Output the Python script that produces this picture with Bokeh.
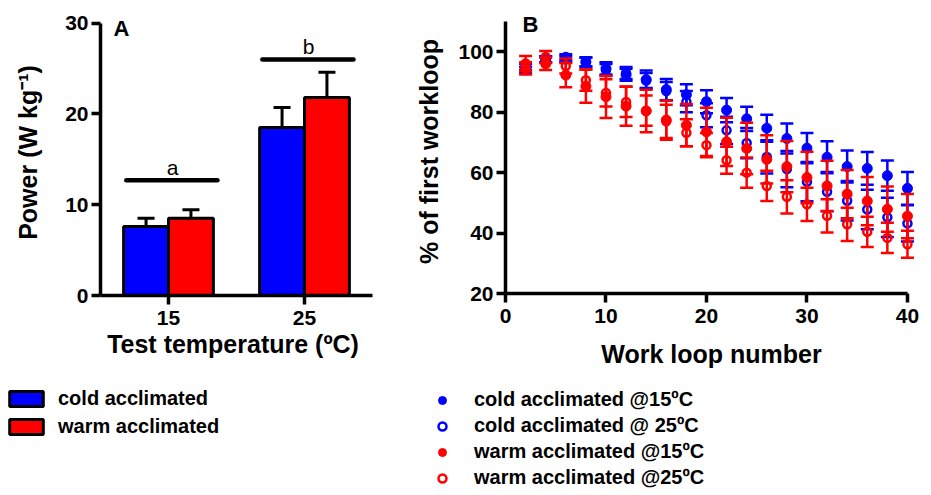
from bokeh.plotting import figure
from bokeh.models import (ColumnDataSource, FactorRange, Range1d, FixedTicker,
                          Legend, LegendItem, Label)
from bokeh.transform import dodge
from bokeh.layouts import row, column
from bokeh.embed import file_html
from bokeh.resources import INLINE
from bokeh.core.properties import value

FONT = "Liberation Sans"
BLUE = "#0000FF"
RED = "#FF0000"

# ---------------- Panel A data ----------------
temps = ["15", "25"]
cold_power = [7.6, 18.5]
cold_sem = [0.9, 2.2]
warm_power = [8.5, 21.8]
warm_sem = [0.95, 2.8]
sig_letters = ["a", "b"]
sig_y = [12.7, 26.0]
bar_labels = ["cold acclimated", "warm acclimated"]

# ---------------- Panel B data ----------------
loops = [2, 4, 6, 8, 10, 12, 14, 16, 18, 20, 22, 24, 26, 28, 30, 32, 34, 36, 38, 40]
cold15 = [94.0, 97.5, 98.2, 96.7, 94.5, 92.4, 90.8, 87.5, 85.8, 83.5, 80.7, 77.8,
          74.7, 71.3, 68.1, 65.1, 62.0, 61.4, 59.0, 54.8]
cold15_sem = [1.0, 1.0, 1.0, 1.5, 2.0, 2.0, 3.0, 3.5, 3.5, 3.8, 4.0, 4.0,
              4.5, 5.0, 5.0, 5.3, 5.3, 5.4, 5.0, 5.4]
cold25 = [95.0, 97.5, 97.5, 96.5, 94.0, 93.0, 90.5, 87.0, 83.5, 79.0, 74.0, 69.8,
          65.2, 61.2, 57.0, 53.7, 50.7, 47.8, 45.2, 43.2]
cold25_sem = [1.0, 1.0, 1.0, 1.5, 2.0, 2.0, 2.5, 3.0, 3.5, 4.0, 4.5, 5.0,
              5.5, 6.0, 6.5, 6.5, 6.5, 6.5, 6.5, 6.0]
warm15 = [94.5, 96.0, 92.3, 88.6, 85.1, 82.0, 80.4, 77.4, 75.7, 73.5, 70.2, 68.0,
          64.4, 62.0, 58.4, 55.6, 52.9, 50.6, 47.9, 45.6]
warm15_sem = [2.0, 2.0, 4.0, 5.5, 7.0, 6.5, 7.0, 6.5, 7.0, 8.0, 8.0, 8.5,
              8.0, 8.5, 8.5, 8.3, 8.0, 8.0, 7.5, 7.3]
warm25 = [96.1, 98.3, 95.3, 90.6, 86.4, 83.4, 80.5, 77.0, 73.2, 69.1, 64.1, 60.0,
          55.6, 52.0, 49.5, 45.7, 42.9, 40.4, 38.4, 36.3]
warm25_sem = [2.5, 2.0, 2.5, 3.5, 4.5, 5.0, 5.0, 5.5, 4.5, 4.0, 4.5, 5.0,
              5.0, 5.5, 5.5, 5.5, 5.5, 5.0, 5.0, 4.5]
series_labels = ["cold acclimated @15\u00baC", "cold acclimated @ 25\u00baC",
                 "warm acclimated @15\u00baC", "warm acclimated @25\u00baC"]


def style_axis(ax, label_size="25px"):
    ax.axis_line_color = "black"
    ax.axis_line_width = 3.5
    ax.major_tick_line_color = "black"
    ax.major_tick_line_width = 3.5
    ax.major_tick_out = 9
    ax.major_tick_in = 0
    ax.minor_tick_line_color = None
    ax.major_label_text_font = FONT
    ax.major_label_text_font_style = "bold"
    ax.major_label_text_font_size = "21px"
    ax.major_label_text_color = "black"
    ax.axis_label_text_font = FONT
    ax.axis_label_text_font_style = "bold"
    ax.axis_label_text_font_size = label_size
    ax.axis_label_text_color = "black"


def clean(p):
    p.outline_line_color = None
    for g in p.grid:
        g.grid_line_color = None


def legend_fig(width):
    f = figure(width=width, height=121, x_range=Range1d(0, 1), y_range=Range1d(0, 1),
               min_border=0, x_axis_location=None, y_axis_location=None,
               output_backend="svg", toolbar_location=None, title=None)
    clean(f)
    return f


# ================= Panel A =================
pA = figure(x_range=FactorRange(factors=temps, range_padding=0),
            y_range=Range1d(0, 31.5),
            frame_width=272, frame_height=286,
            min_border_left=100, min_border_right=28,
            min_border_top=7, min_border_bottom=80,
            output_backend="svg", toolbar_location=None, title=None)
clean(pA)

BW = 0.33
srcA = ColumnDataSource(dict(
    cat=temps, cold=cold_power, warm=warm_power,
    cold_top=[v + s for v, s in zip(cold_power, cold_sem)],
    warm_top=[v + s for v, s in zip(warm_power, warm_sem)],
    sig_y=sig_y, sig=sig_letters, let_y=[y + 1.45 for y in sig_y]))

xc = dodge("cat", -BW / 2, range=pA.x_range)
xw = dodge("cat", BW / 2, range=pA.x_range)

for xx, base, top in ((xc, "cold", "cold_top"), (xw, "warm", "warm_top")):
    pA.segment(x0=xx, y0=base, x1=xx, y1=top, line_color="black",
               line_width=3, source=srcA)
    pA.scatter(x=xx, y=top, marker="dash", size=17, line_color="black",
               line_width=3, source=srcA)

pA.vbar(x=xc, top="cold", width=BW, fill_color=BLUE, line_color="black",
        line_width=3, source=srcA)
pA.vbar(x=xw, top="warm", width=BW, fill_color=RED, line_color="black",
        line_width=3, source=srcA)

pA.segment(x0=dodge("cat", -0.31, range=pA.x_range), y0="sig_y",
           x1=dodge("cat", 0.36, range=pA.x_range), y1="sig_y",
           line_color="black", line_width=4.5, line_cap="round", source=srcA)
pA.text(x=dodge("cat", 0.03, range=pA.x_range), y="let_y", text="sig",
        text_font=value(FONT), text_font_size="21px", text_align="center",
        text_baseline="middle", text_color="black", source=srcA)

style_axis(pA.xaxis[0])
style_axis(pA.yaxis[0])
pA.yaxis.bounds = (0, 30)
pA.yaxis.ticker = FixedTicker(ticks=[0, 10, 20, 30])
pA.yaxis.axis_label = "Power (W kg\u207b\u00b9)"
pA.xaxis.axis_label = "Test  temperature (\u00baC)"
pA.yaxis.major_label_standoff = 3
pA.yaxis.axis_label_standoff = 20
pA.xaxis.major_label_standoff = 6
pA.xaxis.axis_label_standoff = 2

pA.add_layout(Label(x=13, y=267, x_units="screen", y_units="screen", text="A",
                    text_font=FONT, text_font_style="bold", text_font_size="22px",
                    text_baseline="middle", text_color="black"))

# legend A (separate strip below panel A); swatch proxies are zero-size
lA = legend_fig(400)
leg_r_A = [lA.vbar(x=[0.5], top=[0], bottom=[0], width=0, fill_color=c,
                   line_color="black", line_width=3) for c in (BLUE, RED)]
legA = Legend(items=[LegendItem(label=lab, renderers=[r])
                     for lab, r in zip(bar_labels, leg_r_A)],
              location=(5, 56), padding=0, margin=0, spacing=5,
              glyph_width=42, glyph_height=19, label_height=22, label_standoff=11,
              label_text_font=FONT, label_text_font_style="bold",
              label_text_font_size="20px", label_text_color="black",
              border_line_color=None, background_fill_alpha=0)
lA.add_layout(legA)

# ================= Panel B =================
pB = figure(x_range=Range1d(0, 41), y_range=Range1d(20, 114),
            frame_width=412, frame_height=284,
            min_border_left=105, min_border_right=13,
            min_border_top=9, min_border_bottom=80,
            output_backend="svg", toolbar_location=None, title=None)
clean(pB)

series = [(cold15, cold15_sem, BLUE, True), (cold25, cold25_sem, BLUE, False),
          (warm15, warm15_sem, RED, True), (warm25, warm25_sem, RED, False)]
for vals, sems, color, filled in series:
    src = ColumnDataSource(dict(x=loops, y=vals,
                                lo=[v - s for v, s in zip(vals, sems)],
                                hi=[v + s for v, s in zip(vals, sems)]))
    pB.segment(x0="x", y0="lo", x1="x", y1="hi", line_color=color,
               line_width=2.5, source=src)
    pB.scatter(x="x", y="lo", marker="dash", size=13, line_color=color,
               line_width=2.5, source=src)
    pB.scatter(x="x", y="hi", marker="dash", size=13, line_color=color,
               line_width=2.5, source=src)
    if filled:
        pB.scatter(x="x", y="y", marker="circle", size=10, fill_color=color,
                   line_color=color, line_width=1, source=src)
    else:
        pB.scatter(x="x", y="y", marker="circle", size=8, fill_color=None,
                   line_color=color, line_width=2.5, source=src)

style_axis(pB.xaxis[0])
style_axis(pB.yaxis[0])
pB.xaxis.bounds = (0, 40)
pB.yaxis.bounds = (20, 110)
pB.xaxis.ticker = FixedTicker(ticks=[0, 10, 20, 30, 40])
pB.yaxis.ticker = FixedTicker(ticks=[20, 40, 60, 80, 100])
pB.yaxis.axis_label = "% of first workloop"
pB.xaxis.axis_label = "Work loop number"
pB.yaxis.major_label_standoff = 3
pB.yaxis.axis_label_standoff = 12
pB.xaxis.major_label_standoff = 6
pB.xaxis.axis_label_standoff = 14

pB.add_layout(Label(x=17, y=269, x_units="screen", y_units="screen", text="B",
                    text_font=FONT, text_font_style="bold", text_font_size="22px",
                    text_baseline="middle", text_color="black"))

# legend B (separate strip below panel B); swatch proxies sit outside the view
lB = legend_fig(530)
leg_r_B = []
for _, _, color, filled in series:
    if filled:
        leg_r_B.append(lB.scatter(x=[5], y=[5], marker="circle", size=10,
                                  fill_color=color, line_color=color, line_width=1))
    else:
        leg_r_B.append(lB.scatter(x=[5], y=[5], marker="circle", size=8,
                                  fill_color=None, line_color=color, line_width=2.5))
legB = Legend(items=[LegendItem(label=lab, renderers=[r])
                     for lab, r in zip(series_labels, leg_r_B)],
              location=(32, 5), padding=0, margin=0, spacing=3,
              glyph_width=20, glyph_height=22, label_height=22, label_standoff=22,
              label_text_font=FONT, label_text_font_style="bold",
              label_text_font_size="20px", label_text_color="black",
              border_line_color=None, background_fill_alpha=0)
lB.add_layout(legB)

layout = column(row(pA, pB), row(lA, lB))
open("out.html", "w").write(file_html(layout, INLINE))
